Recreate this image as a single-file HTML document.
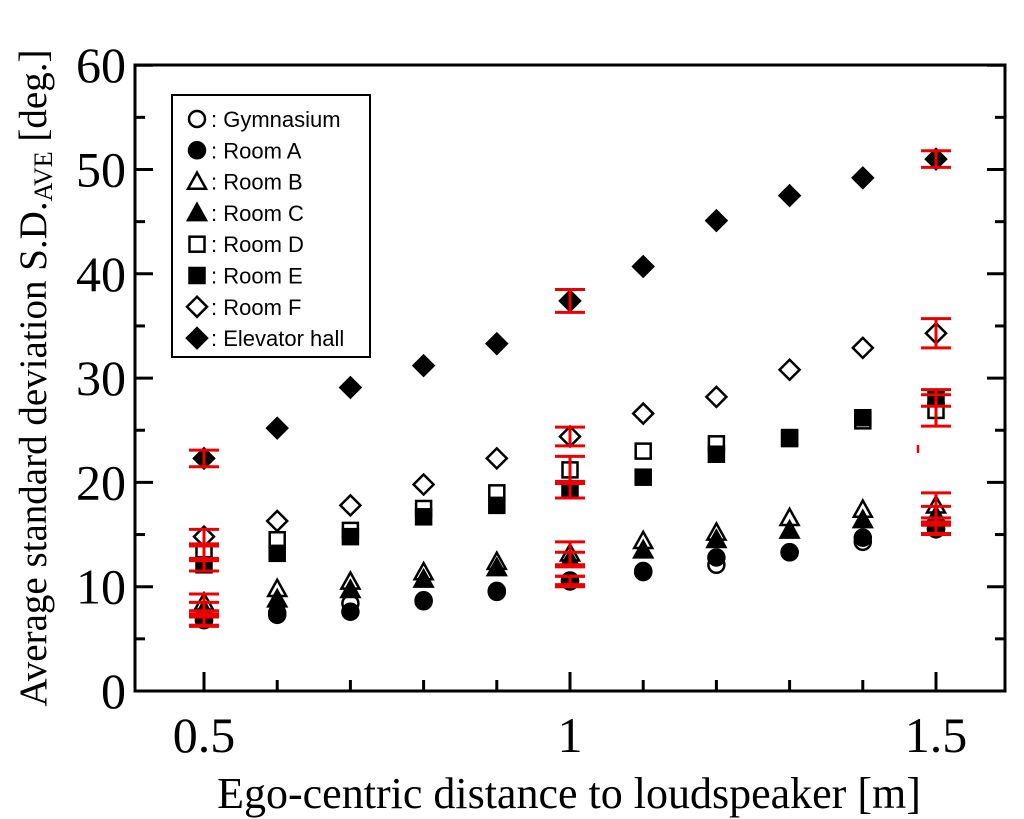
<!DOCTYPE html>
<html><head><meta charset="utf-8"><style>
body{margin:0;background:#fff;}
svg{display:block;font-family:"Liberation Serif",serif;}
</style></head><body>
<svg id="chart" width="1024" height="819" viewBox="0 0 1024 819" xmlns="http://www.w3.org/2000/svg">
<rect x="0" y="0" width="1024" height="819" fill="#fff"/>
<g id="marks"></g>
<rect x="135" y="65" width="870" height="626" fill="none" stroke="#000" stroke-width="3"/>
<g id="axes"></g>
<text x="569" y="808" font-size="44" text-anchor="middle">Ego-centric distance to loudspeaker [m]</text>
<text transform="translate(46,378) rotate(-90)" font-size="39" text-anchor="middle">Average standard deviation S.D.<tspan font-size="26" dy="6">AVE</tspan><tspan dy="-6"> [deg.]</tspan></text>
<g>
<rect x="172" y="95" width="198" height="262" fill="#fff" stroke="#000" stroke-width="2"/>
<g id="legend"></g>
</g>
</svg>
<script>
const xs=[0.5,0.6,0.7,0.8,0.9,1.0,1.1,1.2,1.3,1.4,1.5];
const names=["Gymnasium","Room A","Room B","Room C","Room D","Room E","Room F","Elevator hall"];
const gym=[6.8,7.5,8.4,8.6,9.5,10.6,11.4,12.1,13.3,14.3,15.5];
const roomA=[6.8,7.3,7.6,8.7,9.6,10.5,11.5,12.8,13.3,14.7,15.6];
const roomB=[8.5,9.8,10.5,11.4,12.4,13.2,14.4,15.2,16.6,17.4,17.8];
const roomC=[7.8,8.8,9.7,10.7,11.8,12.6,13.5,14.5,15.4,16.4,16.8];
const roomD=[13.2,14.5,15.4,17.5,19.0,21.2,23.0,23.7,24.2,25.9,26.9];
const roomE=[12.1,13.2,14.8,16.7,17.8,19.3,20.5,22.7,24.3,26.2,28.1];
const roomF=[14.8,16.3,17.8,19.8,22.3,24.4,26.6,28.2,30.8,32.9,34.3];
const elev=[22.3,25.2,29.1,31.2,33.3,37.4,40.7,45.1,47.5,49.2,51.0];
const errX=[0.5,1.0,1.5];
const errGym=[0.5,0.4,0.4];
const errA=[0.6,0.5,0.6];
const errB=[0.8,1.1,1.2];
const errC=[0.7,0.7,0.9];
const errD=[0.7,1.3,1.5];
const errE=[0.6,0.8,0.8];
const errF=[0.7,0.9,1.4];
const errElev=[0.8,1.1,0.8];
const xTicks=[0.5,1,1.5];
const xTickLabels=["0.5","1","1.5"];
const yTicks=[0,10,20,30,40,50,60];

const NS="http://www.w3.org/2000/svg";
function px(x){return 204+(x-0.5)*732;}
function py(v){return 691-v*10.43;}
function mk(tag,attrs,parent){const e=document.createElementNS(NS,tag);for(const k in attrs)e.setAttribute(k,attrs[k]);parent.appendChild(e);return e;}
const marks=document.getElementById('marks');
const axes=document.getElementById('axes');
const leg=document.getElementById('legend');

function marker(shape,filled,cx,cy,parent,s){
  s=s||9;const st={fill:filled?'#000':'#fff',stroke:'#000','stroke-width':2.5};let e;
  if(shape==='circle'){e=mk('circle',Object.assign({cx:cx,cy:cy,r:s-1},st),parent);}
  else if(shape==='tri'){e=mk('polygon',Object.assign({points:`${cx},${cy-s} ${cx-s},${cy+s*0.8} ${cx+s},${cy+s*0.8}`},st),parent);}
  else if(shape==='sq'){const h=s-1.5;e=mk('rect',Object.assign({x:cx-h,y:cy-h,width:2*h,height:2*h},st),parent);}
  else {e=mk('polygon',Object.assign({points:`${cx},${cy-s-1} ${cx+s+1},${cy} ${cx},${cy+s+1} ${cx-s-1},${cy}`},st),parent);}
  return e;
}
const series=[[gym,'circle',false,errGym],[roomA,'circle',true,errA],[roomB,'tri',false,errB],[roomC,'tri',true,errC],[roomD,'sq',false,errD],[roomE,'sq',true,errE],[roomF,'dia',false,errF],[elev,'dia',true,errElev]];
series.forEach((s,i)=>{
  const g=mk('g',{},marks);
  
  
  s[0].forEach((v,j)=>{
    const e=marker(s[1],s[2],px(xs[j]),py(v),g);
    
    
  });
});
series.forEach((s,i)=>{
  errX.forEach((x,k)=>{
    const j=xs.indexOf(x);const v=s[0][j];const e=s[3][k];const cx=px(x);
    const g=mk('g',{stroke:'#e00','stroke-width':3},marks);
    
    
    mk('line',{x1:cx,x2:cx,y1:py(v+e),y2:py(v-e)},g);
    mk('line',{x1:cx-15,x2:cx+15,y1:py(v+e),y2:py(v+e)},g);
    mk('line',{x1:cx-15,x2:cx+15,y1:py(v-e),y2:py(v-e)},g);
  });
});
const stray=mk('line',{x1:918,x2:918,y1:445,y2:453,stroke:'#e00','stroke-width':2.5},marks);


for(let t=0.5;t<=1.501;t+=0.1){
  const major=xTicks.some(m=>Math.abs(m-t)<1e-6);
  const l=mk('line',{x1:px(t),x2:px(t),y1:691,y2:major?672:680,stroke:'#000','stroke-width':3},axes);
  
  
}
xTicks.forEach((t,i)=>{
  const tx=mk('text',{x:px(t),y:752,'font-size':50,'text-anchor':'middle'},axes);
  tx.textContent=xTickLabels[i];
  
  
});
for(let v=0;v<=60;v+=5){
  const major=v%10===0;const len=major?18:10;
  [[135,135+len],[1005,1005-len]].forEach(p=>{
    const l=mk('line',{x1:p[0],x2:p[1],y1:py(v),y2:py(v),stroke:'#000','stroke-width':3},axes);
    
    
  });
}
yTicks.forEach(v=>{
  const tx=mk('text',{x:126,y:py(v)+17,'font-size':50,'text-anchor':'end'},axes);
  tx.textContent=String(v);
  
  
});
series.forEach((s,i)=>{
  const y=119+i*31.3;
  const g=mk('g',{},leg);
  
  
  marker(s[1],s[2],197,y,g,9);
  const t=mk('text',{x:211,y:y+8,'font-size':22,'font-family':'"Liberation Sans",sans-serif'},g);
  t.textContent=': '+names[i];
});
</script>
</body></html>
